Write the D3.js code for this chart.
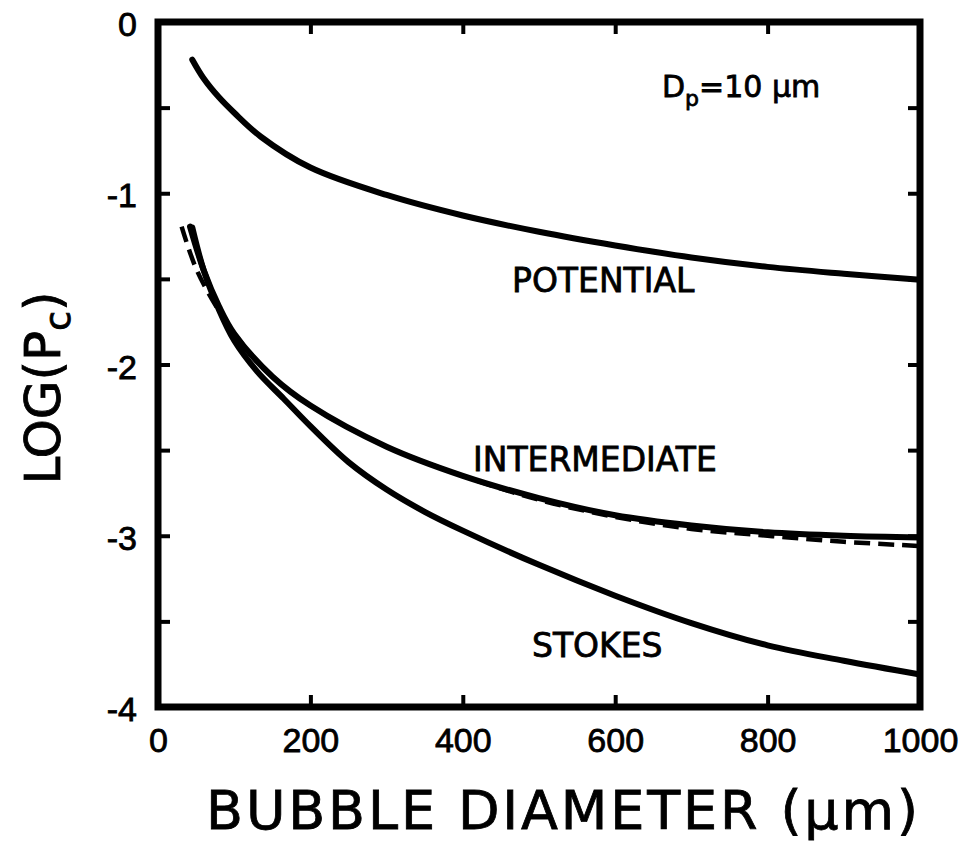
<!DOCTYPE html>
<html>
<head>
<meta charset="utf-8">
<script src="https://cdn.jsdelivr.net/npm/d3@7.9.0/dist/d3.min.js"></script>
<style>
  body { margin: 0; background: #fff; }
  svg { display: block; font-family: 'DejaVu Sans', sans-serif; }
  text { fill: #000; stroke: #000; stroke-width: 0.8px; }
  .tick text { font-size: 34px; }
  .tick line { stroke: #000; stroke-width: 4px; }
</style>
</head>
<body>
<svg width="976" height="844"></svg>
<script>
// bubble diameter (um) and log(Pc)
const potentialX = [45, 60, 80, 100, 135, 200, 300, 400, 500, 600, 700, 800, 900, 1000];
const potentialY = [-0.22, -0.33, -0.44, -0.53, -0.67, -0.85, -1.01, -1.13, -1.225, -1.305, -1.375, -1.43, -1.47, -1.505];

const intermediateX = [42, 60, 80, 100, 150, 200, 300, 400, 500, 600, 700, 800, 900, 1000];
const intermediateY = [-1.195, -1.45, -1.66, -1.82, -2.07, -2.24, -2.48, -2.65, -2.78, -2.88, -2.94, -2.98, -3.0, -3.01];

// dashed curve, only departs from intermediate at the ends
const dashedX = [31, 50, 75, 100, 150, 200, 300, 400, 500, 600, 700, 800, 900, 1000];
const dashedY = [-1.195, -1.44, -1.65, -1.82, -2.07, -2.24, -2.48, -2.65, -2.79, -2.89, -2.96, -3.0, -3.035, -3.06];

const stokesX = [45, 60, 80, 100, 130, 165, 200, 250, 300, 350, 400, 500, 600, 700, 800, 900, 1000];
const stokesY = [-1.2, -1.45, -1.68, -1.86, -2.04, -2.2, -2.36, -2.57, -2.73, -2.86, -2.97, -3.17, -3.35, -3.51, -3.64, -3.73, -3.81];

const xTicks = [0, 200, 400, 600, 800, 1000];
const yTicks = [0, -0.5, -1, -1.5, -2, -2.5, -3, -3.5, -4];

const svg = d3.select('svg');

let x = d3.scaleLinear().domain([0, 1000]).range([158, 920]);
let y = d3.scaleLinear().domain([-4, 0]).range([707, 22]);

const yLabel = (d) => (Number.isInteger(d) ? String(d) : '');

// bottom axis with labels
svg.append('g')
  .attr('transform', `translate(0,${y(-4)})`)
  .call(d3.axisBottom(x).tickValues(xTicks).tickSize(-12).tickPadding(21).tickFormat(d3.format('d')))
  .call((g) => g.select('.domain').remove());

// top axis, ticks only
svg.append('g')
  .attr('transform', `translate(0,${y(0)})`)
  .call(d3.axisTop(x).tickValues(xTicks).tickSize(-12).tickFormat(''))
  .call((g) => g.select('.domain').remove());

// left axis with labels
svg.append('g')
  .attr('transform', `translate(${x(0)},0)`)
  .call(d3.axisLeft(y).tickValues(yTicks).tickSize(-12).tickPadding(21).tickFormat(yLabel))
  .call((g) => g.select('.domain').remove())
  .call((g) => g.selectAll('text').attr('dy', '0.4em'));

// right axis, ticks only
svg.append('g')
  .attr('transform', `translate(${x(1000)},0)`)
  .call(d3.axisRight(y).tickValues(yTicks).tickSize(-12).tickFormat(''))
  .call((g) => g.select('.domain').remove());

// frame
svg.append('rect')
  .attr('x', x(0)).attr('y', y(0))
  .attr('width', x(1000) - x(0)).attr('height', y(-4) - y(0))
  .attr('fill', 'none').attr('stroke', '#000').attr('stroke-width', 7);

const line = d3.line()
  .x((d) => x(d[0]))
  .y((d) => y(d[1]))
  .curve(d3.curveCatmullRom.alpha(0.5));

function drawCurve(xs, ys, dashed) {
  svg.append('path')
    .attr('d', line(d3.zip(xs, ys)))
    .attr('fill', 'none')
    .attr('stroke', '#000')
    .attr('stroke-width', dashed ? 4.5 : 6)
    .attr('stroke-linecap', dashed ? 'butt' : 'round')
    .attr('stroke-dasharray', dashed ? '16,8' : null);
}

drawCurve(dashedX, dashedY, true);
drawCurve(potentialX, potentialY, false);
drawCurve(intermediateX, intermediateY, false);
drawCurve(stokesX, stokesY, false);

// curve labels
const label = (tx, ty, text, size) => svg.append('text')
  .attr('x', tx).attr('y', ty)
  .attr('font-size', size)
  .text(text);

label(512, 292, 'POTENTIAL', 33);
label(473, 471, 'INTERMEDIATE', 33);
label(532, 657, 'STOKES', 33);

let dp = svg.append('text').attr('x', 662).attr('y', 97).attr('font-size', 30);
dp.append('tspan').text('D');
dp.append('tspan').attr('font-size', 22).attr('dy', 9).text('p');
dp.append('tspan').attr('dy', -9).text('=10 µm');

// axis titles
svg.append('text')
  .attr('x', 562).attr('y', 829)
  .attr('text-anchor', 'middle')
  .attr('font-size', 54)
  .attr('textLength', 712)
  .attr('lengthAdjust', 'spacing')
  .text('BUBBLE DIAMETER (µm)');

let yt = svg.append('text')
  .attr('transform', 'translate(60,388) rotate(-90)')
  .attr('text-anchor', 'middle')
  .attr('font-size', 50);
yt.append('tspan').text('LOG(P');
yt.append('tspan').attr('font-size', 36).attr('dy', 10).text('c');
yt.append('tspan').attr('dy', -10).text(')');
</script>
</body>
</html>
